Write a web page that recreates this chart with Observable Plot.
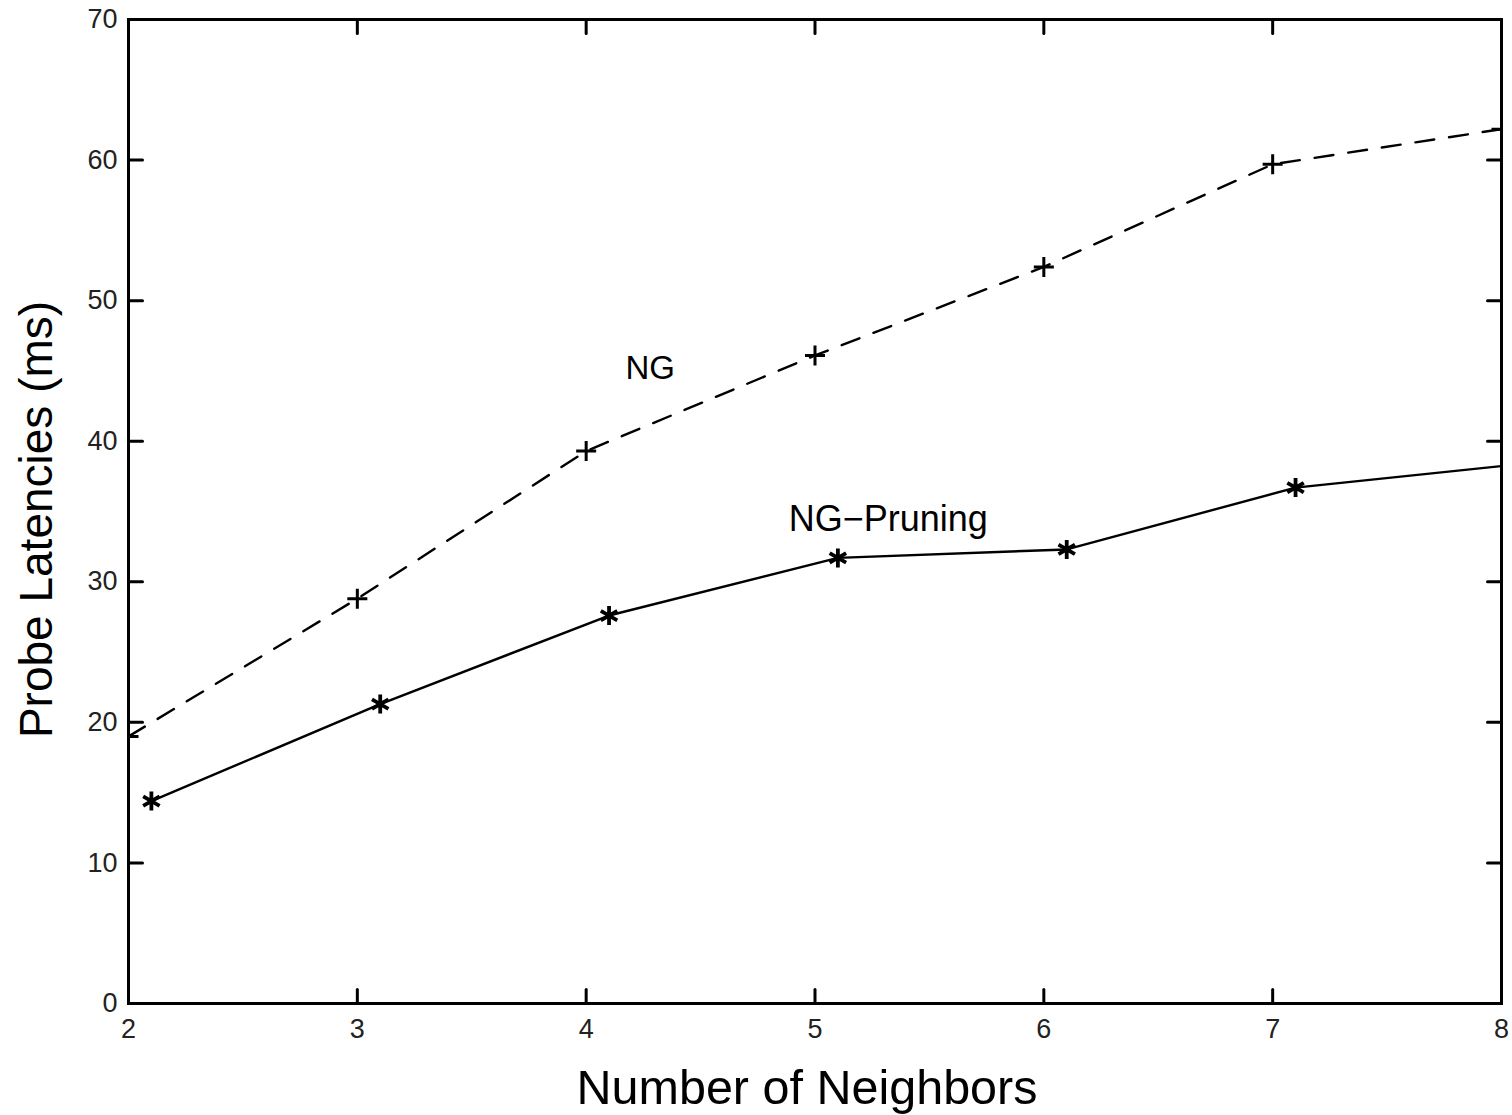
<!DOCTYPE html>
<html>
<head>
<meta charset="utf-8">
<script src="https://cdn.jsdelivr.net/npm/d3@7"></script>
<script src="https://cdn.jsdelivr.net/npm/@observablehq/plot@0.6"></script>
<style>
  html, body { margin: 0; padding: 0; background: #fff; }
  #chart svg { display: block; }
</style>
</head>
<body>
<div id="chart"></div>
<script>
// ---- data ----
const ngX = [2, 3, 4, 5, 6, 7, 8];
const ngY = [19.0, 28.8, 39.3, 46.1, 52.4, 59.7, 62.2];
const prX = [2.1, 3.1, 4.1, 5.1, 6.1, 7.1, 8.1];
const prY = [14.4, 21.3, 27.6, 31.7, 32.3, 36.7, 38.4];
const xTicks = [2, 3, 4, 5, 6, 7, 8];
const yTicks = [0, 10, 20, 30, 40, 50, 60, 70];
const seriesLabels = ["NG", "NG\u2212Pruning"];
const labelX = [4.28, 5.32];
const labelY = [45.2, 34.4];
const labelSize = [33, 36];
const xTitle = "Number of Neighbors";
const yTitle = "Probe Latencies (ms)";

const ng = ngX.map((x, i) => ({x, y: ngY[i]}));
const pr = prX.map((x, i) => ({x, y: prY[i]}));
const labels = seriesLabels.map((t, i) => ({t, x: labelX[i], y: labelY[i], s: labelSize[i]}));

const tickShape = {draw(c, l) { c.moveTo(0, 0); c.lineTo(0, -l); }};
const font = "'Liberation Sans', Arial, Helvetica, sans-serif";

const chart = Plot.plot({
  width: 1512,
  height: 1115,
  marginLeft: 128,
  marginRight: 11,
  marginTop: 19,
  marginBottom: 112,
  style: {fontFamily: font, background: "#fff", color: "#000"},
  x: {domain: [2, 8], axis: null},
  y: {domain: [0, 70], axis: null},
  marks: [
    // data lines
    Plot.line(ng, {x: "x", y: "y", stroke: "#000", strokeWidth: 2.4, strokeDasharray: "19,15", clip: true}),
    Plot.line(pr, {x: "x", y: "y", stroke: "#000", strokeWidth: 2.4, clip: true}),
    Plot.dot(ng, {x: "x", y: "y", symbol: "plus", r: 6.5, stroke: "#000", strokeWidth: 3, clip: true}),
    Plot.dot(pr, {x: "x", y: "y", symbol: "asterisk", r: 9, stroke: "#000", strokeWidth: 3.8, clip: true}),
    // annotations
    Plot.text(labels.slice(0, 1), {x: "x", y: "y", text: "t", fontSize: 33, fill: "#000", textAnchor: "middle", lineAnchor: "middle"}),
    Plot.text(labels.slice(1), {x: "x", y: "y", text: "t", fontSize: 36, fill: "#000", textAnchor: "middle", lineAnchor: "middle"}),
    // frame
    Plot.frame({stroke: "#000", strokeWidth: 3}),
    // inward ticks
    Plot.vector(xTicks, {x: d => d, frameAnchor: "bottom", length: 14, rotate: 0, anchor: "start", shape: tickShape, stroke: "#000", strokeWidth: 3}),
    Plot.vector(xTicks, {x: d => d, frameAnchor: "top", length: 14, rotate: 180, anchor: "start", shape: tickShape, stroke: "#000", strokeWidth: 3}),
    Plot.vector(yTicks, {y: d => d, frameAnchor: "left", length: 14, rotate: 90, anchor: "start", shape: tickShape, stroke: "#000", strokeWidth: 3}),
    Plot.vector(yTicks, {y: d => d, frameAnchor: "right", length: 14, rotate: -90, anchor: "start", shape: tickShape, stroke: "#000", strokeWidth: 3}),
    // tick labels
    Plot.text(xTicks, {x: d => d, frameAnchor: "bottom", dy: 15, text: d => String(d), fontSize: 27, fill: "#222", textAnchor: "middle", lineAnchor: "top"}),
    Plot.text(yTicks, {y: d => d, frameAnchor: "left", dx: -11, text: d => String(d), fontSize: 27, fill: "#222", textAnchor: "end", lineAnchor: "middle"}),
    // axis titles
    Plot.text([xTitle], {frameAnchor: "bottom", dy: 85, dx: -8, fontSize: 48.5, fill: "#000", textAnchor: "middle", lineAnchor: "middle"}),
    Plot.text([yTitle], {frameAnchor: "left", dx: -91, dy: 8, rotate: -90, fontSize: 46, fill: "#000", textAnchor: "middle", lineAnchor: "middle"})
  ]
});
document.getElementById("chart").appendChild(chart);
</script>
</body>
</html>
